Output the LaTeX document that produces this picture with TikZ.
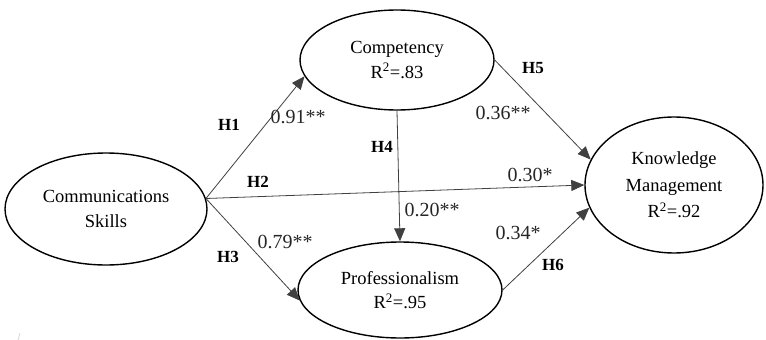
\documentclass[tikz,border=0pt]{standalone}
\usepackage{fontspec}
\setmainfont{Liberation Serif}
\usetikzlibrary{arrows.meta,shapes.geometric}
\begin{document}
\begin{tikzpicture}[x=1pt,y=-1pt,
  construct/.style={ellipse,draw=black,line width=1.4pt,inner sep=0pt,align=center,
    font=\fontsize{18.5}{24.5}\selectfont},
  path/.style={draw=black!75,line width=0.8pt,-{Triangle[length=13pt,width=11pt]}},
  hyp/.style={font=\fontsize{17}{18}\selectfont\bfseries},
  coef/.style={font=\fontsize{20}{22}\selectfont,text=black!85}]
\useasboundingbox (0,0) rectangle (766,340);
\node[construct,minimum width=202pt,minimum height=112pt] (comm) at (106,209) {Communications\\Skills};
\node[construct,minimum width=194pt,minimum height=100pt] (comp) at (397,60) {Competency\\R\textsuperscript{2}=.83};
\node[construct,minimum width=204pt,minimum height=96pt] (prof) at (400,290) {Professionalism\\R\textsuperscript{2}=.95};
\node[construct,minimum width=178pt,minimum height=136pt,font=\fontsize{18.5}{26.5}\selectfont] (km) at (674,185) {Knowledge\\Management\\R\textsuperscript{2}=.92};
\coordinate (src) at (comm.6);
\draw[path] (src) -- (comp.190);
\draw[path] (src) -- (km.180);
\draw[path] (src) -- (prof.186);
\draw[path] (comp.south) -- (prof.north);
\draw[path] (comp.east) -- (km.163);
\draw[path] (prof.east) -- (km.195);
\node[hyp] (h1) at (229,125) {H1};
\node[hyp] (h2) at (258,182) {H2};
\node[hyp] (h3) at (228,257) {H3};
\node[hyp] (h4) at (382,147) {H4};
\node[hyp] (h5) at (533,68) {H5};
\node[hyp] (h6) at (553,265) {H6};
\node[coef] (c1) at (298,117) {0.91**};
\node[coef] (c2) at (530,175) {0.30*};
\node[coef] (c3) at (285,242) {0.79**};
\node[coef] (c4) at (432,210) {0.20**};
\node[coef] (c5) at (503,113) {0.36**};
\node[coef] (c6) at (518,233) {0.34*};
\draw[black!20,line width=0.6pt] (18,340) -- (20,333);
\end{tikzpicture}
\end{document}
